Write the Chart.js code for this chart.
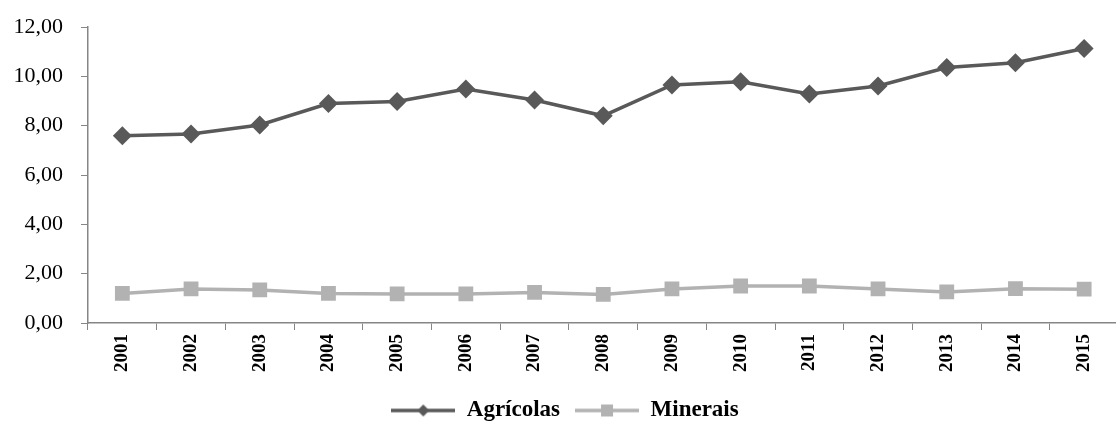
<!DOCTYPE html>
<html><head><meta charset="utf-8">
<script src="https://cdn.jsdelivr.net/npm/chart.js@4/dist/chart.umd.min.js"></script>
<style>
html,body{margin:0;padding:0;background:#fff;overflow:hidden;width:1116px;height:432px;}
#wrap{position:relative;width:1130px;height:432px;}
</style></head>
<body><div id="wrap"><canvas id="c" width="1130" height="432"></canvas></div>
<script>
const years = ['2001','2002','2003','2004','2005','2006','2007','2008','2009','2010','2011','2012','2013','2014','2015'];
const agricolas = [7.59,7.66,8.03,8.90,8.98,9.49,9.04,8.40,9.65,9.78,9.28,9.61,10.36,10.55,11.13];
const minerais = [1.20,1.38,1.34,1.20,1.18,1.18,1.24,1.16,1.38,1.50,1.50,1.38,1.26,1.39,1.37];
const yTicks = [0,2,4,6,8,10,12];

function legendIcon(color, style){
  const cv = document.createElement('canvas');
  cv.width = 64; cv.height = 18;
  const g = cv.getContext('2d');
  g.strokeStyle = color; g.lineWidth = 3.5;
  g.beginPath(); g.moveTo(0,9); g.lineTo(64,9); g.stroke();
  g.fillStyle = color;
  if(style==='diamond'){
    g.beginPath(); g.moveTo(32,3); g.lineTo(38,9); g.lineTo(32,15); g.lineTo(26,9); g.closePath(); g.fill();
  } else {
    g.fillRect(26,3,12,12);
  }
  return cv;
}
const icons = [legendIcon('#595959','diamond'), legendIcon('#b2b2b2','square')];

new Chart(document.getElementById('c'), {
  type:'line',
  data:{
    labels: years,
    datasets:[
      {label:'Agrícolas', data:agricolas, borderColor:'#595959', backgroundColor:'#595959', borderWidth:3.5,
       pointStyle:'rectRot', pointRadius:7, pointHoverRadius:7, tension:0},
      {label:'Minerais', data:minerais, borderColor:'#b2b2b2', backgroundColor:'#b2b2b2', borderWidth:3.5,
       pointStyle:'rect', pointRadius:8, pointHoverRadius:8, tension:0}
    ]
  },
  options:{
    responsive:false, animation:false,
    layout:{padding:{left:0,right:0,top:27,bottom:0}},
    plugins:{
      tooltip:{enabled:false},
      legend:{
        position:'bottom',
        labels:{
          usePointStyle:true,
          pointStyleWidth:64,
          font:{family:'"Liberation Serif", serif', size:23, weight:'bold'},
          color:'#000',
          padding:15,
          boxHeight:18,
          generateLabels:(chart)=>chart.data.datasets.map((d,i)=>({
            text:d.label, pointStyle:icons[i], fillStyle:d.borderColor, strokeStyle:d.borderColor,
            lineWidth:0, hidden:false, datasetIndex:i, fontColor:'#000'
          }))
        }
      }
    },
    scales:{
      x:{
        type:'category', offset:true,
        grid:{display:true, drawOnChartArea:false, drawTicks:true, tickLength:7, offset:true, color:'#868686', lineWidth:1},
        border:{display:true, color:'#868686', width:1.5},
        ticks:{maxRotation:90, minRotation:90, autoSkip:false, color:'#000', padding:4,
          font:{family:'"Liberation Serif", serif', size:19, weight:'bold'}},
        afterFit:(s)=>{ s.height = 61; s.paddingLeft = 0; s.paddingRight = 0; }
      },
      y:{
        min:0, max:12,
        afterBuildTicks:(s)=>{ s.ticks = yTicks.map(v=>({value:v})); },
        grid:{display:true, drawOnChartArea:false, drawTicks:true, tickLength:7, color:'#868686'},
        border:{display:true, color:'#868686', width:1.5},
        ticks:{color:'#000', padding:18,
          font:{family:'"Liberation Serif", serif', size:22},
          callback:(v)=>Number(v).toFixed(2).replace('.',',')},
        afterFit:(s)=>{ s.width = 88; s.paddingTop = 0; s.paddingBottom = 0; }
      }
    }
  }
});
</script></body></html>
